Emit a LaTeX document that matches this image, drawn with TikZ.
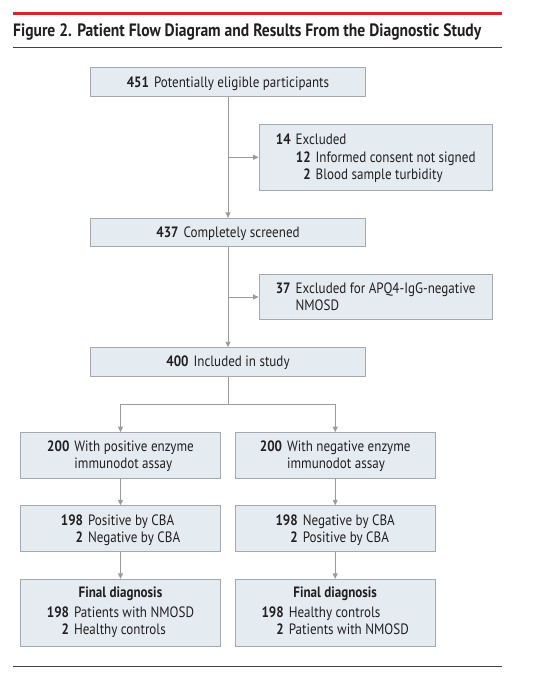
\documentclass[tikz,border=0pt]{standalone}
\usepackage{fontspec}
\setmainfont{PT Sans}[FakeStretch=0.87]
\usetikzlibrary{arrows.meta}
\definecolor{boxfill}{RGB}{229,236,241}
\definecolor{boxline}{RGB}{165,168,172}
\definecolor{conn}{RGB}{155,155,155}
\definecolor{jamared}{RGB}{222,32,48}
\definecolor{txt}{RGB}{35,31,32}
\newcommand{\nb}[1]{\textbf{#1}}
\newcommand{\up}{\rule{0pt}{15pt}}
\tikzset{
  flowbox/.style={draw=boxline, line width=0.9pt, fill=boxfill, inner sep=0pt,
    text=txt, font=\fontsize{15}{17}\selectfont, align=center},
  widebox/.style={flowbox, minimum width=275.7pt},
  sidebox/.style={flowbox, minimum width=233.3pt},
  halfbox/.style={flowbox, minimum width=199.5pt},
  conn/.style={draw=conn, line width=0.9pt},
  arr/.style={conn, -{Triangle[length=5.5pt,width=5pt]}},
}
\begin{document}
\begin{tikzpicture}[x=1pt,y=-1pt]
\useasboundingbox (0,0) rectangle (558,676);
% header
\draw[jamared, line width=3pt] (13,14) -- (502,14);
\node[anchor=base west, inner sep=0pt, text=txt, font=\fontsize{17.9}{20}\selectfont\bfseries] (title) at (13,37)
  {Figure 2. Patient Flow Diagram and Results From the Diagnostic Study};
\draw[txt!85, line width=1pt] (13,48) -- (502,48);
% boxes
\node[widebox, minimum height=29pt] (b1) at (228,82.2)
  {\begin{tabular}{@{}r@{\hspace{5pt}}l@{}}\up\nb{451} & Potentially eligible participants\end{tabular}};
\node[sidebox, minimum height=66pt] (e1) at (375.7,157.3)
  {\begin{tabular}{@{}r@{\hspace{5pt}}l@{}}\up\nb{14} & Excluded\\[0.5pt]
   \multicolumn{2}{@{}l@{}}{\hspace{20pt}\begin{tabular}{@{}r@{\hspace{5pt}}l@{}}\nb{12} & Informed consent not signed\\ \nb{2} & Blood sample turbidity\end{tabular}}\end{tabular}};
\node[widebox, minimum height=28.4pt] (b2) at (228,232.5)
  {\begin{tabular}{@{}r@{\hspace{5pt}}l@{}}\up\nb{437} & Completely screened\end{tabular}};
\node[sidebox, minimum height=44.7pt] (e2) at (375.7,297)
  {\begin{tabular}{@{}r@{\hspace{5pt}}l@{}}\up\nb{37} & Excluded for APQ4-IgG-negative\\ & NMOSD\end{tabular}};
\node[widebox, minimum height=28.3pt] (b3) at (228,361.9)
  {\begin{tabular}{@{}r@{\hspace{5pt}}l@{}}\up\nb{400} & Included in study\end{tabular}};
\node[halfbox, minimum height=45.3pt] (l1) at (120.5,455.3)
  {\begin{tabular}{@{}r@{\hspace{5pt}}l@{}}\up\nb{200} & With positive enzyme\\ & immunodot assay\end{tabular}};
\node[halfbox, minimum height=45.3pt] (r1) at (335.2,455.3)
  {\begin{tabular}{@{}r@{\hspace{5pt}}l@{}}\up\nb{200} & With negative enzyme\\ & immunodot assay\end{tabular}};
\node[halfbox, minimum height=46pt] (l2) at (120.5,528.7)
  {\begin{tabular}{@{}r@{\hspace{5pt}}l@{}}\up\nb{198} & Positive by CBA\\ \nb{2} & Negative by CBA\end{tabular}};
\node[halfbox, minimum height=46pt] (r2) at (335.2,528.7)
  {\begin{tabular}{@{}r@{\hspace{5pt}}l@{}}\up\nb{198} & Negative by CBA\\ \nb{2} & Positive by CBA\end{tabular}};
\node[halfbox, minimum height=67.4pt] (l3) at (120.5,613)
  {\begin{tabular}{@{}r@{\hspace{5pt}}l@{}}\multicolumn{2}{@{}c@{}}{\nb{Final diagnosis}}\\[3pt] \nb{198} & Patients with NMOSD\\ \nb{2} & Healthy controls\end{tabular}};
\node[halfbox, minimum height=67.4pt] (r3) at (335.2,613)
  {\begin{tabular}{@{}r@{\hspace{5pt}}l@{}}\multicolumn{2}{@{}c@{}}{\nb{Final diagnosis}}\\[3pt] \nb{198} & Healthy controls\\ \nb{2} & Patients with NMOSD\end{tabular}};
% connectors
\draw[arr] (b1.south) -- (b2.north);
\draw[arr] (b1.south |- e1.west) -- (e1.west);
\draw[arr] (b2.south) -- (b3.north);
\draw[arr] (b2.south |- e2.west) -- (e2.west);
\coordinate (split) at (228,404);
\draw[conn] (b3.south) -- (split);
\draw[conn] (l1.north |- split) -- (r1.north |- split);
\draw[arr] (l1.north |- split) -- (l1.north);
\draw[arr] (r1.north |- split) -- (r1.north);
\draw[arr] (l1.south) -- (l2.north);
\draw[arr] (r1.south) -- (r2.north);
\draw[arr] (l2.south) -- (l3.north);
\draw[arr] (r2.south) -- (r3.north);
% bottom rule
\draw[txt!85, line width=1.3pt] (13,666.7) -- (502,666.7);
\end{tikzpicture}
\end{document}
